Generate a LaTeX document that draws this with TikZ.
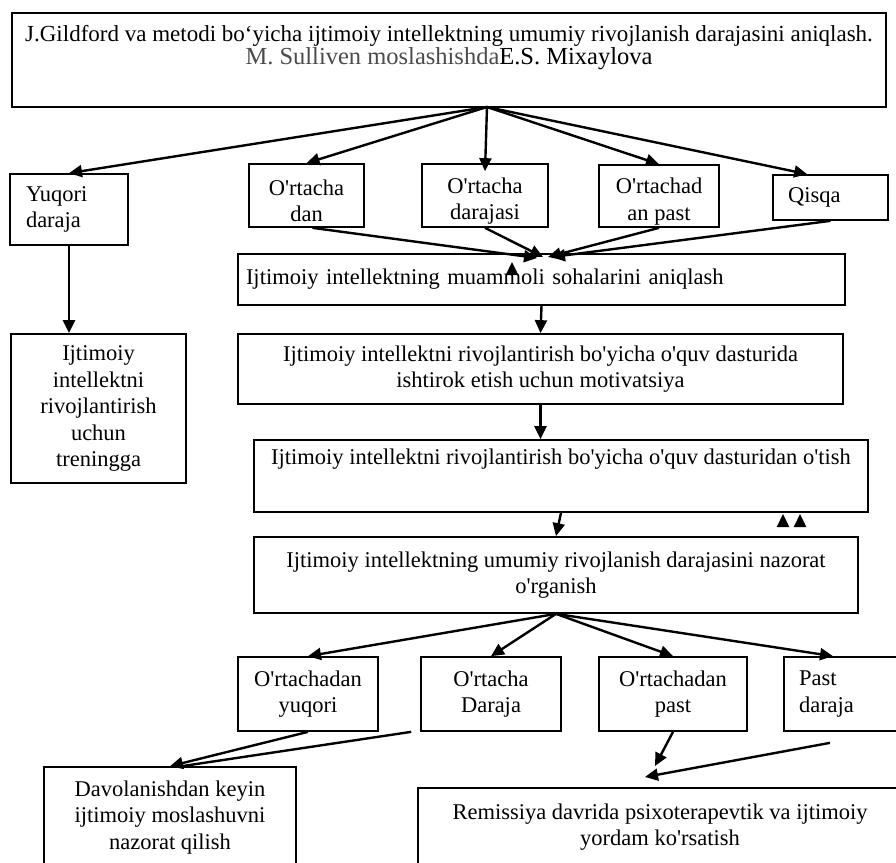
\documentclass[tikz,border=0pt]{standalone}
\usepackage{fontspec}
\setmainfont{Liberation Serif}[Ligatures=TeXOff]
\usepackage{tikz}
\usepackage{xcolor}
\usetikzlibrary{arrows.meta}
\definecolor{sulliven-gray}{RGB}{75,75,75}
\newcommand{\boxfont}{\fontsize{22.5}{26.5}\selectfont}
\newcommand{\topfont}{\fontsize{23}{23}\selectfont}
\tikzset{
    plain-box/.style = {draw=black, line width=1.7pt, rectangle, inner sep=0pt, align=center, font=\boxfont},
    left-box/.style = {plain-box, align=left},
    low-box/.style = {plain-box, text height=53pt},
    box-text/.style = {inner sep=0pt, align=center},
    arrow-line/.style = {line width=2.4pt, -{Triangle[length=13pt,width=12pt]}},
    bare-line/.style = {line width=2.4pt},
}

\begin{document}
\begin{tikzpicture}[x=1pt, y=-1pt]
\useasboundingbox (0,0) rectangle (896,862);

% top box
\node [plain-box, minimum width=874pt, minimum height=94pt] (top) at (449,60) {};
\node [box-text, below=13pt, font=\topfont] (top-text) at (top.north) {J.Gildford va metodi bo‘yicha ijtimoiy intellektning umumiy rivojlanish darajasini aniqlash.\\
    \fontsize{24.5}{24}\selectfont\textcolor{sulliven-gray}{M. Sulliven moslashishda}E.S. Mixaylova};
\coordinate (fan-top) at (487,107);

% first level
\node [left-box, text width=86pt, inner xsep=16pt, minimum height=71pt] (yuqori) at (69,209.5) {Yuqori\\daraja};
\node [low-box, minimum width=115pt, minimum height=63pt] (dan) at (306.5,195.5) {O'rtacha\\dan};
\node [low-box, minimum width=126pt, minimum height=63pt] (darajasi) at (485,195.5) {O'rtacha\\darajasi};
\node [low-box, minimum width=120pt, minimum height=62pt] (anpast) at (659,196) {O'rtachad\\an past};
\node [left-box, text width=85pt, inner xsep=15pt, minimum height=45pt] (qisqa) at (830.5,197.5) {Qisqa};

\draw [arrow-line] (fan-top) -- (yuqori.north);
\draw [arrow-line] (fan-top) -- (dan.north);
\draw [arrow-line] (fan-top) -- ([yshift=-8pt]darajasi.north);
\draw [arrow-line] (fan-top) -- (anpast.north);
\draw [arrow-line] (fan-top) -- ([xshift=35pt]qisqa.north west);

% middle column
\node [left-box, text width=591pt, inner xsep=8pt, minimum height=51pt] (muammoli) at (541.5,279.5) {Ijtimoiy intellektning muammoli sohalarini aniqlash};
\node [plain-box, minimum width=175pt, minimum height=149pt] (treningga) at (98.5,408.5) {Ijtimoiy\\intellektni\\rivojlantirish\\uchun\\treningga};
\node [plain-box, minimum width=605pt, minimum height=70pt] (motiv) at (540.5,369) {Ijtimoiy intellektni rivojlantirish bo'yicha o'quv dasturida\\ishtirok etish uchun motivatsiya};
\node [plain-box, minimum width=614pt, minimum height=72pt] (otish) at (561,476) {};
\node [box-text, below=10pt, font=\boxfont] (otish-text) at (otish.north) {Ijtimoiy intellektni rivojlantirish bo'yicha o'quv dasturidan o'tish};
\node [plain-box, minimum width=604pt, minimum height=76pt] (nazorat) at (556,575) {Ijtimoiy intellektning umumiy rivojlanish darajasini nazorat\\o'rganish};

\coordinate (meet-a) at (537,258);
\coordinate (meet-b) at (543,257);
\coordinate (meet-c) at (548,257);
\coordinate (meet-d) at (552,257);
\draw [arrow-line] ([xshift=6pt]dan.south) -- (meet-a);
\draw [arrow-line] (darajasi.south) -- (meet-b);
\draw [arrow-line] (anpast.south) -- (meet-c);
\draw [arrow-line] (qisqa.south) -- (meet-d);
\coordinate (stray-a) at (512,262);
\draw [arrow-line] (512,274) -- (stray-a);

\draw [arrow-line] (yuqori.south) -- (yuqori.south |- treningga.north);
\draw [arrow-line] (muammoli.south) -- (motiv.north);
\draw [arrow-line] (motiv.south) -- (motiv.south |- otish.north);
\draw [arrow-line] (otish.south) -- (nazorat.north);
\coordinate (stray-b) at (783,514);
\coordinate (stray-c) at (800,514);
\draw [arrow-line] (783,527) -- (stray-b);
\draw [arrow-line] (800,527) -- (stray-c);

% second level
\node [plain-box, minimum width=140pt, minimum height=74pt] (yuqori2) at (308,694) {O'rtachadan\\yuqori};
\node [plain-box, minimum width=140pt, minimum height=74pt] (daraja2) at (491,694) {O'rtacha\\Daraja};
\node [plain-box, minimum width=148pt, minimum height=74pt] (past2) at (673,694) {O'rtachadan\\past};
\node [left-box, text width=86pt, inner xsep=15pt, minimum height=74pt] (past3) at (842,694) {Past\\daraja};

\draw [arrow-line] (nazorat.south) -- (yuqori2.north);
\draw [arrow-line] (nazorat.south) -- (daraja2.north);
\draw [arrow-line] (nazorat.south) -- (past2.north);
\draw [arrow-line] (nazorat.south) -- ([xshift=-9pt]past3.north);

% bottom boxes
\node [plain-box, minimum width=252pt, minimum height=101pt] (davol) at (170,817.5) {Davolanishdan keyin\\ijtimoiy moslashuvni\\nazorat qilish};
\node [plain-box, minimum width=484pt, minimum height=78pt] (remis) at (660,827) {Remissiya davrida psixoterapevtik va ijtimoiy\\yordam ko'rsatish};

\draw [arrow-line] (yuqori2.south) -- (davol.north);
\draw [bare-line] ([xshift=-9pt]daraja2.south west) -- ([xshift=12pt]davol.north);
\coordinate (rem-a) at (655,766);
\coordinate (rem-b) at (645,777);
\draw [arrow-line] (past2.south) -- (rem-a);
\draw [arrow-line] ([xshift=-12pt,yshift=-11pt]past3.south) -- (rem-b);
\end{tikzpicture}
\end{document}
